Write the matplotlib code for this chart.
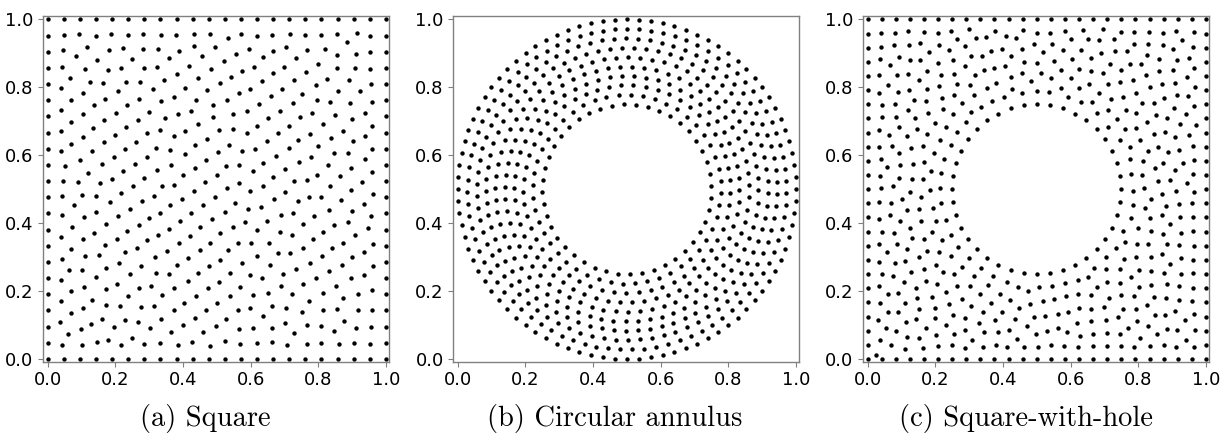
import numpy as np
import matplotlib.pyplot as plt

# (a) square: nodes per edge (corners included) and interior node count
sq_edge_pts = 22
sq_interior = 440

# (b) circular annulus: centre, ring radii and nodes per ring (outer -> inner)
ann_center = (0.5, 0.5)
ring_radii = [0.500, 0.472, 0.444, 0.417, 0.389, 0.361, 0.333, 0.306, 0.278, 0.250]
ring_counts = [88, 83, 78, 73, 68, 63, 58, 53, 48, 44]

# (c) square with a circular hole
sh_edge_pts = 25
sh_hole_center = (0.5, 0.5)
sh_hole_r = 0.25
sh_hole_pts = 40
sh_interior = 470

captions = ["(a) Square", "(b) Circular annulus", "(c) Square-with-hole"]
tick_vals = [0.0, 0.2, 0.4, 0.6, 0.8, 1.0]


def square_edge(n):
    t = np.linspace(0, 1, n)
    pts = [np.c_[t, np.zeros(n)], np.c_[t, np.ones(n)],
           np.c_[np.zeros(n - 2), t[1:-1]], np.c_[np.ones(n - 2), t[1:-1]]]
    return np.vstack(pts)


def circle_pts(c, r, n, phase=0.0):
    th = phase + 2 * np.pi * np.arange(n) / n
    return np.c_[c[0] + r * np.cos(th), c[1] + r * np.sin(th)]


def r2_seq(n):
    # low discrepancy start positions
    g = 1.32471795724474602596
    k = np.arange(1, n + 1)
    return np.c_[(0.5 + k / g) % 1, (0.5 + k / g ** 2) % 1]


def relax(pts, fixed, h, project, n_iter=200):
    n = len(pts)
    for _ in range(n_iter):
        allp = np.vstack([pts, fixed])
        d = pts[:, None, :] - allp[None, :, :]
        r = np.sqrt((d ** 2).sum(-1))
        r[np.arange(n), np.arange(n)] = 10.0
        r = np.maximum(r, 1e-9)
        w = np.where(r < 1.5 * h, (1.5 * h - r) / r, 0.0)
        pts = pts + 0.2 * (d * w[..., None]).sum(1)
        pts = project(pts)
    return pts


# (a)
h_a = 1 / (sq_edge_pts - 1)
edge_a = square_edge(sq_edge_pts)
clip_a = lambda p: np.clip(p, 0.25 * h_a, 1 - 0.25 * h_a)
pts_a = relax(clip_a(r2_seq(sq_interior)), edge_a, h_a, clip_a)
nodes_a = np.vstack([edge_a, pts_a])

# (b) rings, each turned by the golden angle against the previous one
golden = np.pi * (3 - np.sqrt(5))
nodes_b = np.vstack([circle_pts(ann_center, r, n, phase=i * golden)
                     for i, (r, n) in enumerate(zip(ring_radii, ring_counts))])

# (c)
h_c = 1 / (sh_edge_pts - 1)
edge_c = np.vstack([square_edge(sh_edge_pts),
                    circle_pts(sh_hole_center, sh_hole_r, sh_hole_pts)])


def clip_c(p):
    p = np.clip(p, 0.25 * h_c, 1 - 0.25 * h_c)
    v = p - np.array(sh_hole_center)
    rr = np.sqrt((v ** 2).sum(1))
    rmin = sh_hole_r + 0.25 * h_c
    s = np.where(rr < rmin, rmin / np.maximum(rr, 1e-9), 1.0)
    return np.array(sh_hole_center) + v * s[:, None]


start = r2_seq(3 * sh_interior)
dist = np.sqrt(((start - np.array(sh_hole_center)) ** 2).sum(1))
start = start[dist > sh_hole_r][:sh_interior]
pts_c = relax(clip_c(start), edge_c, h_c, clip_c)
nodes_c = np.vstack([edge_c, pts_c])

fig = plt.figure(figsize=(12.2, 4.36), dpi=100)
lefts = [0.0355, 0.3716, 0.7076]
cap_x = [205 / 1220, 615 / 1220, 1026 / 1220]

for left, nodes, cap, cx in zip(lefts, [nodes_a, nodes_b, nodes_c], captions, cap_x):
    ax = fig.add_axes([left, 0.1704, 0.2836, 0.793])
    ax.scatter(nodes[:, 0], nodes[:, 1], s=10, c="black", linewidths=0)
    ax.set_xlim(-0.013, 1.01)
    ax.set_ylim(-0.008, 1.01)
    ax.set_xticks(tick_vals)
    ax.set_yticks(tick_vals)
    ax.tick_params(labelsize=13, color="0.5", length=3.5)
    for sp in ax.spines.values():
        sp.set_color("0.5")
        sp.set_linewidth(1.0)
    fig.text(cx, 0.041, cap, ha="center", va="center",
             fontsize=20.5, family="cmr10")

plt.savefig("out.png", dpi=100)
